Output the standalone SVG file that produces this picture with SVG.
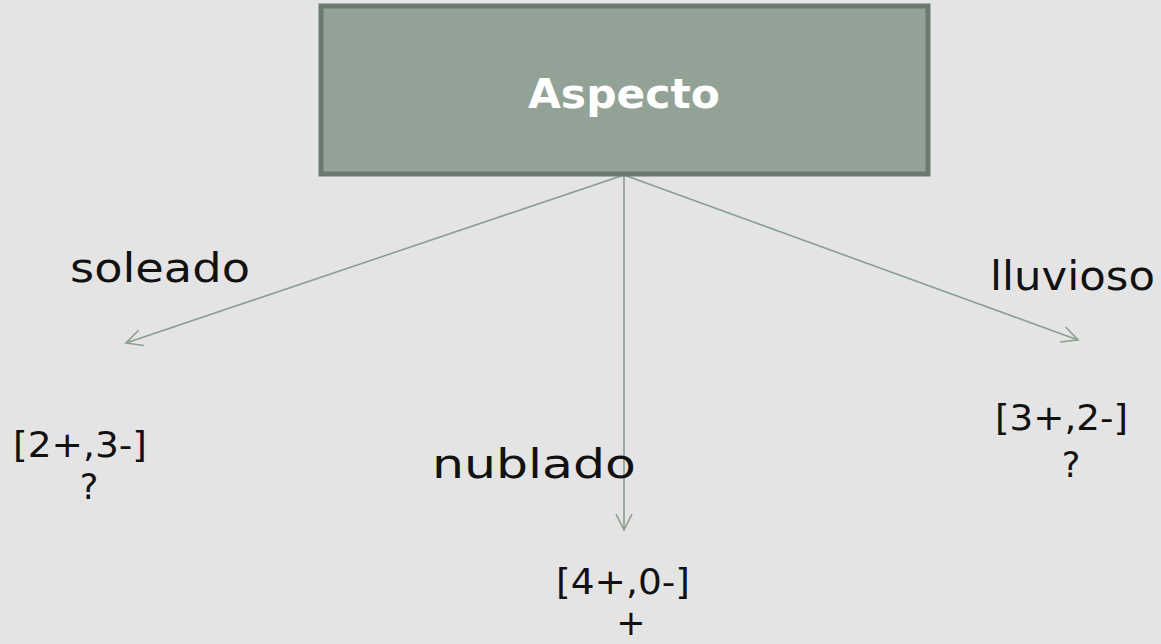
<svg xmlns="http://www.w3.org/2000/svg" width="1161" height="644" viewBox="0 0 1161 644">
  <defs>
    <marker id="arrow" viewBox="0 0 20 20" refX="18" refY="10" markerWidth="20" markerHeight="20" markerUnits="userSpaceOnUse" orient="auto">
      <path d="M2,2 L18,10 L2,18" fill="none" stroke="#8a9e90" stroke-width="1.6"/>
    </marker>
    <style>
      .edge { stroke: #8a9e90; stroke-width: 1.6; fill: none; marker-end: url(#arrow); }
      .lbl { font-family: "DejaVu Sans", "Liberation Sans", sans-serif; font-size: 40px; fill: #111111; }
      .leaf { font-family: "DejaVu Sans", "Liberation Sans", sans-serif; font-size: 35px; fill: #111111; }
      .root-box { fill: #92a296; stroke: #6b7a6e; stroke-width: 5; }
      .root-txt { font-family: "DejaVu Sans", "Liberation Sans", sans-serif; font-size: 40px; font-weight: bold; fill: #ffffff; }
    </style>
  </defs>

  <rect width="1161" height="644" fill="#e4e4e4"/>

  <g id="connectors">
    <line class="edge" x1="624" y1="175" x2="126" y2="343"/>
    <line class="edge" x1="624" y1="175" x2="624" y2="530"/>
    <line class="edge" x1="624" y1="175" x2="1078" y2="340"/>
  </g>

  <g id="node-aspecto">
    <rect class="root-box" x="321" y="6" width="607" height="168"/>
    <text class="root-txt" x="624" y="108" text-anchor="middle" textLength="192" lengthAdjust="spacingAndGlyphs">Aspecto</text>
  </g>

  <g id="label-soleado">
    <text class="lbl" x="70" y="282" textLength="180" lengthAdjust="spacingAndGlyphs">soleado</text>
  </g>
  <g id="label-nublado">
    <text class="lbl" x="432" y="478" textLength="204" lengthAdjust="spacingAndGlyphs">nublado</text>
  </g>
  <g id="label-lluvioso">
    <text class="lbl" x="990" y="290" textLength="165" lengthAdjust="spacingAndGlyphs">lluvioso</text>
  </g>

  <!-- leaf nodes: class counts on the first line, decision on the second -->
  <g id="node-soleado">
    <text class="leaf"><tspan x="13" y="457" textLength="134" lengthAdjust="spacingAndGlyphs">[2+,3-]</tspan><tspan x="89" y="499" text-anchor="middle">?</tspan></text>
  </g>
  <g id="node-nublado">
    <text class="leaf"><tspan x="556" y="594" textLength="134" lengthAdjust="spacingAndGlyphs">[4+,0-]</tspan><tspan x="631" y="635" text-anchor="middle">+</tspan></text>
  </g>
  <g id="node-lluvioso">
    <text class="leaf"><tspan x="995" y="430" textLength="133" lengthAdjust="spacingAndGlyphs">[3+,2-]</tspan><tspan x="1071" y="477" text-anchor="middle">?</tspan></text>
  </g>
</svg>
